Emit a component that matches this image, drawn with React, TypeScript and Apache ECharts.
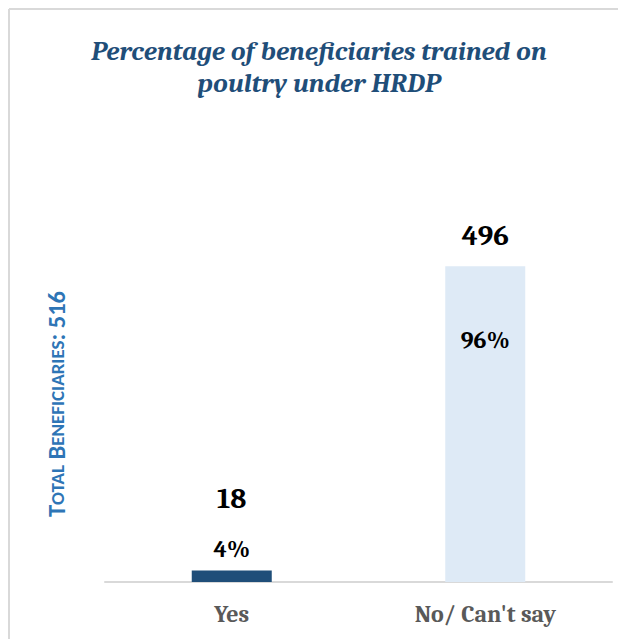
import React, { useEffect, useRef } from "react";
import * as echarts from "echarts";

const categories = ["Yes", "No/ Can't say"];
const counts = [18, 496];
const percents = [4, 96];
const totalBeneficiaries = 516;
const titleText = "Percentage of beneficiaries trained on\npoultry under HRDP";

const SERIF = "Cambria, Caladea, 'Liberation Serif', serif";
const SANS = "Calibri, Carlito, 'Liberation Sans', sans-serif";

export default function App() {
  const ref = useRef<HTMLDivElement>(null);
  useEffect(() => {
    if (!ref.current) return;
    const chart = echarts.init(ref.current, null, { renderer: "svg" });
    const countLabel = [
      { position: "top", distance: 58 },
      { position: "top", distance: 16 },
    ];
    const pctLabel = [
      { position: "top", distance: 10 },
      { position: "insideTop", distance: 62 },
    ];
    chart.setOption({
      animation: false,
      backgroundColor: "#fff",
      title: {
        text: titleText,
        left: 314,
        top: 30,
        textAlign: "center",
        textStyle: {
          fontFamily: SERIF,
          fontStyle: "italic",
          fontWeight: "bold",
          fontSize: 27,
          lineHeight: 32,
          color: "#1F4E79",
        },
      },
      graphic: [
        { type: "line", shape: { x1: 9, y1: 9, x2: 618, y2: 9 }, style: { stroke: "#D9D9D9", lineWidth: 2 } },
        { type: "line", shape: { x1: 9, y1: 9, x2: 9, y2: 639 }, style: { stroke: "#D9D9D9", lineWidth: 2 } },
        {
          type: "text",
          x: 57,
          y: 404,
          rotation: Math.PI / 2,
          style: {
            text: "{b|T}{s|OTAL} {b|B}{s|ENEFICIARIES}{b|: " + totalBeneficiaries + "}",
            align: "center",
            verticalAlign: "middle",
            fill: "#2E75B6",
            fontFamily: SANS,
            fontWeight: "bold",
            fontSize: 24,
            rich: {
              b: { fontFamily: SANS, fontWeight: "bold", fontSize: 24.5, fill: "#2E75B6" },
              s: { fontFamily: SANS, fontWeight: "bold", fontSize: 19, fill: "#2E75B6" },
            },
          },
        },
      ],
      grid: { left: 105, right: 6, top: 200, bottom: 57 },
      xAxis: {
        type: "category",
        data: categories,
        axisLine: { lineStyle: { color: "#D9D9D9", width: 2 } },
        axisTick: { show: false },
        axisLabel: {
          fontFamily: SERIF,
          fontWeight: "bold",
          fontSize: 24,
          color: "#595959",
          margin: 20,
        },
      },
      yAxis: {
        type: "value",
        min: 0,
        max: 600,
        show: false,
        splitLine: { show: false },
      },
      series: [
        {
          type: "bar",
          barWidth: 80,
          barGap: "-100%",
          data: counts.map((v, i) => ({
            value: v,
            itemStyle: { color: i === 0 ? "#1F4E79" : "#DEEAF6" },
            label: {
              show: true,
              ...countLabel[i],
              formatter: String(v),
              fontFamily: SERIF,
              fontWeight: "bold",
              fontSize: 29,
              color: "#000",
            },
          })),
        },
        {
          type: "bar",
          barWidth: 80,
          barGap: "-100%",
          itemStyle: { color: "rgba(0,0,0,0)" },
          data: counts.map((v, i) => ({
            value: v,
            label: {
              show: true,
              ...pctLabel[i],
              formatter: percents[i] + "%",
              fontFamily: SERIF,
              fontWeight: "bold",
              fontSize: 24,
              color: "#000",
            },
          })),
        },
      ],
    });
    return () => chart.dispose();
  }, []);
  return (
    <div
      ref={ref}
      style={{ position: "fixed", left: 0, top: 0, width: 618, height: 639 }}
    />
  );
}
